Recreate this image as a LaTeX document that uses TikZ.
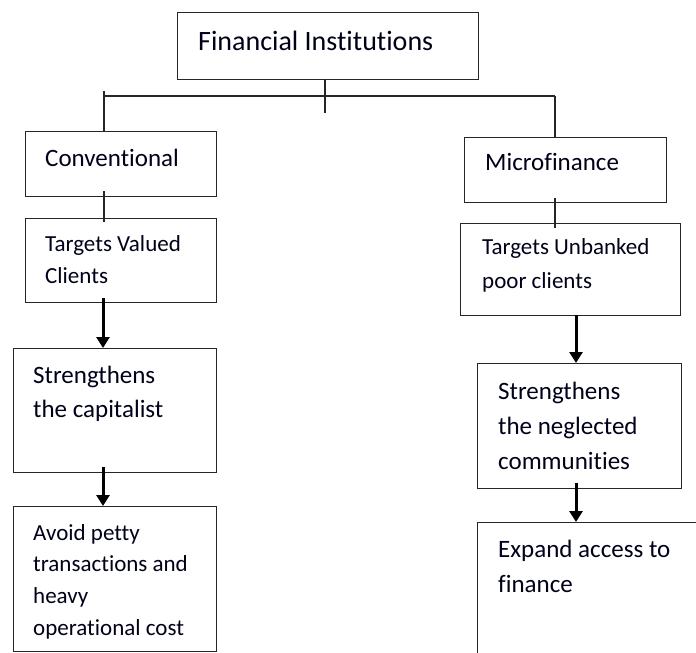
\documentclass[tikz,border=0pt]{standalone}
\usepackage{fontspec}
\setmainfont{Carlito}[Ligatures={NoCommon}]
\usetikzlibrary{arrows.meta}
\begin{document}
\begin{tikzpicture}[x=1pt,y=-1pt,
  box/.style={draw=black!85,line width=1.3pt,inner sep=0pt,anchor=north west},
  txt/.style={inner sep=0pt,anchor=north west,align=left,text=black!90!blue},
  thin/.style={draw=black!85,line width=1.1pt},
  thick/.style={draw=black,line width=3pt,-{Triangle[width=13pt,length=11pt]}}]
\path[use as bounding box] (0,0) rectangle (696,653);
\clip (0,0) rectangle (696,653);
\newcommand{\bx}[5]{\node[box,minimum width=#4-#2,minimum height=#5-#3] (#1) at (#2,#3) {};}
\newcommand{\tx}[6]{\node[txt,font={\fontsize{#5}{#6}\selectfont}] (#1) at (#2,#3-0.8*#5) {\rule{0pt}{0.8em}#4};}
% boxes
\bx{title}{177}{12}{478}{79}
\bx{conv}{25}{131}{216}{196}
\bx{tv}{25}{218}{216}{302}
\bx{scap}{13}{348}{216}{472}
\bx{avoid}{13}{506}{216}{651}
\bx{micro}{464}{137}{666}{202}
\bx{tu}{460}{223}{680}{315}
\bx{sneg}{477}{363}{681}{488}
\bx{expand}{477}{522}{730}{690}
% texts
\tx{ttitle}{198}{50}{Financial Institutions}{28}{34}
\tx{tconv}{45}{166}{Conventional}{25}{32}
\tx{ttv}{45}{251}{Targets Valued\\Clients}{23}{32}
\tx{tscap}{33}{383}{Strengthens\\the capitalist}{25}{34}
\tx{tavoid}{33}{540}{Avoid petty\\transactions and\\heavy\\operational cost}{23}{31.7}
\tx{tmicro}{485}{170}{Microfinance}{25}{32}
\tx{ttu}{482}{254}{Targets Unbanked\\poor clients}{23}{34}
\tx{tsneg}{498}{399}{Strengthens\\the neglected\\communities}{25}{35}
\tx{texp}{498}{557}{Expand access to\\finance}{25}{35}
% tree connectors
\coordinate (tdrop) at (325,113);
\coordinate (hl) at (104,96);
\coordinate (hltop) at (104,91);
\coordinate (hr) at (555,96);
\draw[thin] (title.south -| tdrop) -- (tdrop);
\draw[thin] (hl) -- (hr);
\draw[thin] (hltop) -- (conv.north -| hltop);
\draw[thin] (hr) -- (micro.north -| hr);
\coordinate (c1) at (104,191);
\coordinate (c2) at (104,222);
\draw[thin] (c1) -- (c2);
\coordinate (m1) at (555,198);
\coordinate (m2) at (555,228);
\draw[thin] (m1) -- (m2);
% arrows
\coordinate (a1) at (103,298);
\draw[thick] (a1) -- (scap.north -| a1);
\coordinate (a2) at (103,467);
\draw[thick] (a2) -- (avoid.north -| a2);
\coordinate (b1) at (576,315);
\draw[thick] (b1) -- (sneg.north -| b1);
\coordinate (b2) at (576,483);
\draw[thick] (b2) -- (expand.north -| b2);
\end{tikzpicture}
\end{document}
